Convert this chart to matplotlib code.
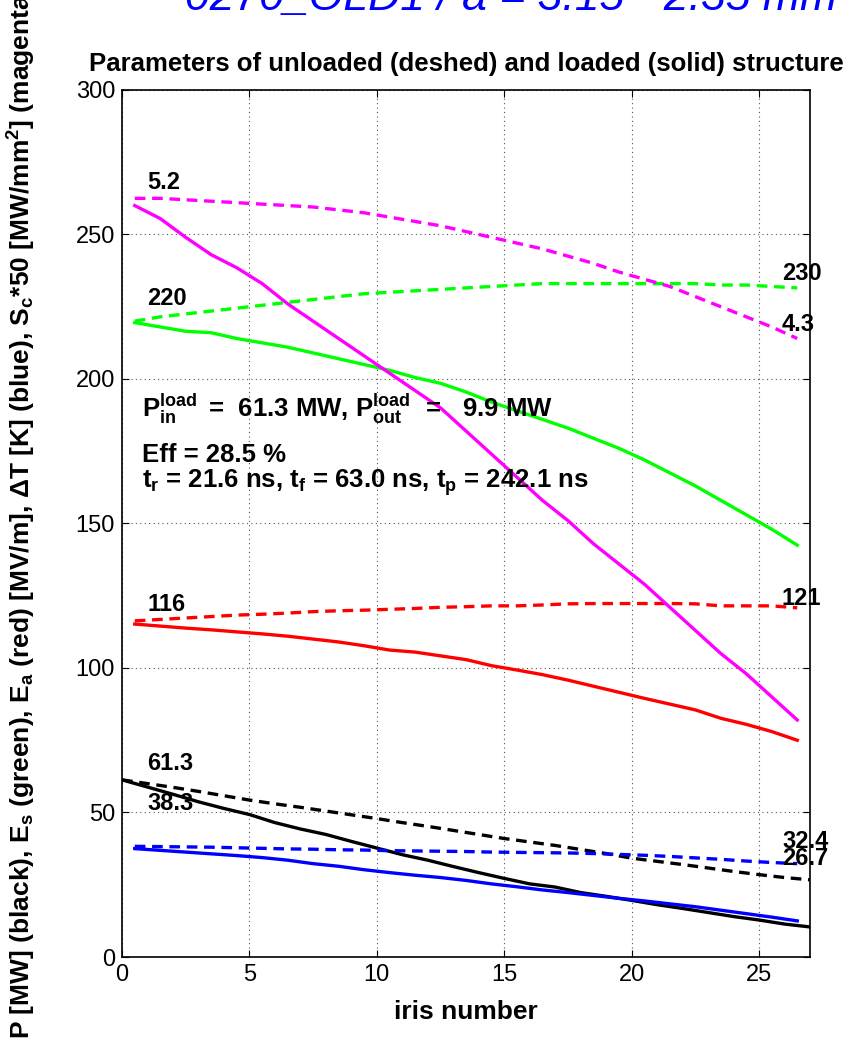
import numpy as np
import matplotlib.pyplot as plt

plt.rcParams['font.family'] = ['Liberation Sans', 'DejaVu Sans']
plt.rcParams['mathtext.fontset'] = 'custom'
plt.rcParams['mathtext.rm'] = 'Liberation Sans'
plt.rcParams['mathtext.bf'] = 'Liberation Sans:bold'
plt.rcParams['mathtext.default'] = 'bf'

# iris positions: power at cell boundaries, others at cell centres
n_edge = np.arange(0, 28)
n_mid = np.arange(0.5, 27, 1.0)

P_unl = [61.3, 60, 58.7, 57.3, 55.8, 54.3, 53, 51.8, 50.5, 49.2, 47.9, 46.5, 45.2, 43.8,
         42.4, 41, 39.8, 38.6, 37.2, 35.8, 34.2, 33.1, 32, 30.8, 29.6, 28.5, 27.5, 26.7]
P_load = [61.3, 58.8, 56.3, 53.7, 51.4, 49.3, 46.5, 44.3, 42.4, 40, 37.7, 35.4, 33.5, 31.3,
          29.2, 27.2, 25.3, 24.2, 22.3, 21, 19.6, 18.1, 16.8, 15.4, 14, 12.8, 11.4, 10.4]

Es_unl = [220, 221.5, 222.5, 223.5, 224.5, 225.5, 226.5, 227.5, 228.5, 229.5, 230, 230.5, 231,
          231.5, 232, 232.5, 233, 233, 233, 233, 233, 233, 233, 232.5, 232.5, 232, 231.5]
Es_load = [219.5, 218, 216.5, 216, 214, 212.5, 211, 209, 207, 205, 203, 200.5, 198.5, 195.5,
           192, 189, 186, 183, 179.5, 176, 172, 167.5, 163, 158, 153, 148, 142.5]

Ea_unl = [116.3, 116.8, 117.3, 117.8, 118.3, 118.6, 119, 119.5, 119.8, 120, 120.3, 120.6, 121,
          121.2, 121.5, 121.5, 121.8, 122.2, 122.3, 122.3, 122.3, 122.3, 122.2, 121.5, 121.5,
          121.5, 120.8]
Ea_load = [115.2, 114.5, 113.8, 113.2, 112.5, 111.8, 111, 110, 109, 107.7, 106.2, 105.5, 104.2,
           102.9, 100.8, 99.3, 97.7, 95.8, 93.7, 91.6, 89.5, 87.5, 85.5, 82.6, 80.5, 78, 75]

dT_unl = [38.3, 38.2, 38.1, 38, 37.8, 37.6, 37.4, 37.3, 37.1, 37, 36.8, 36.7, 36.6, 36.5, 36.3,
          36.2, 36.1, 36, 35.8, 35.5, 35.2, 34.8, 34.3, 33.8, 33.2, 32.7, 32.3]
dT_load = [37.5, 36.9, 36.3, 35.7, 35.1, 34.4, 33.5, 32.3, 31.4, 30.2, 29.2, 28.3, 27.5, 26.5,
           25.3, 24.3, 23.2, 22.3, 21.3, 20.3, 19.4, 18.4, 17.4, 16.2, 15, 13.8, 12.5]

Sc_unl = [262.5, 262.5, 262, 261.5, 261, 260.5, 260, 259.5, 258.5, 257.5, 256, 254.5, 253, 251,
          249, 247, 245, 242.5, 240, 237, 234.5, 232, 228.5, 225, 221.5, 218, 214]
Sc_load = [260, 255.5, 249, 243, 238.5, 233, 226, 220, 214, 208, 202, 196, 190, 182, 174, 166,
           158, 151, 143, 136, 129, 121, 113, 105, 98, 90, 82]

labels_left = ['5.2', '220', '116', '61.3', '38.3']
labels_left_y = [268, 228, 122, 67, 53]
labels_right = ['230', '4.3', '121', '32.4', '26.7']
labels_right_y = [236.5, 219, 124, 40, 34]

fig = plt.figure(figsize=(8.52, 10.57), dpi=100)
ax = fig.add_axes([0.1432, 0.0946, 0.8075, 0.8203])

lw = 2.4
dash = (0, (3.2, 2))
mag = (1, 0, 1)
grn = (0, 1, 0)
ax.plot(n_edge, P_unl, color='k', lw=lw, ls=dash)
ax.plot(n_edge, P_load, color='k', lw=lw)
ax.plot(n_mid, Es_unl, color=grn, lw=lw, ls=dash)
ax.plot(n_mid, Es_load, color=grn, lw=lw)
ax.plot(n_mid, Ea_unl, color='r', lw=lw, ls=dash)
ax.plot(n_mid, Ea_load, color='r', lw=lw)
ax.plot(n_mid, dT_unl, color='b', lw=lw, ls=dash)
ax.plot(n_mid, dT_load, color='b', lw=lw)
ax.plot(n_mid, Sc_unl, color=mag, lw=lw, ls=dash)
ax.plot(n_mid, Sc_load, color=mag, lw=lw)

ax.set_xlim(0, 27)
ax.set_ylim(0, 300)
ax.set_xticks([0, 5, 10, 15, 20, 25])
ax.set_yticks([0, 50, 100, 150, 200, 250, 300])
ax.grid(True, ls=(0, (1, 3)), color='#555555', lw=0.8)
ax.tick_params(direction='in', top=True, right=True, labelsize=17, length=5, pad=5)
for s in ax.spines.values():
    s.set_linewidth(1.2)

for t, y in zip(labels_left, labels_left_y):
    ax.text(1.0, y, t, fontsize=17, fontweight='bold', va='center', ha='left')
for t, y in zip(labels_right, labels_right_y):
    ax.text(25.9, y, t, fontsize=17, fontweight='bold', va='center', ha='left')

ax.text(0.8, 187, r'P$_{in}^{load}\,$ =  61.3 MW, P$_{out}^{load}\ $ =   9.9 MW',
        fontsize=18.5, fontweight='bold', va='baseline')
ax.text(0.8, 171.3, 'Eff = 28.5 %', fontsize=18.5, fontweight='bold', va='baseline')
ax.text(0.8, 162.3, r't$_r$ = 21.6 ns, t$_f$ = 63.0 ns, t$_p$ = 242.1 ns',
        fontsize=18.5, fontweight='bold', va='baseline')

ax.set_title('Parameters of unloaded (deshed) and loaded (solid) structure',
             fontsize=18.5, fontweight='bold', pad=14)
ax.set_xlabel('iris number', fontsize=19, fontweight='bold', labelpad=10)
fig.text(22 / 852, 1 - 512 / 1057,
         r'P [MW] (black), E$_s$ (green), E$_a$ (red) [MV/m], $\Delta$T [K] (blue), '
         r'S$_c$*50 [MW/mm$^2$] (magenta)',
         rotation=90, fontsize=19, fontweight='bold', ha='center', va='center')

fig.text(185 / 852, 1 - 10 / 1057, '0270_OLD1 / a = 3.15 - 2.35 mm', fontsize=32,
         style='italic', color='b', ha='left', va='baseline')

fig.savefig('out.png', dpi=100)
